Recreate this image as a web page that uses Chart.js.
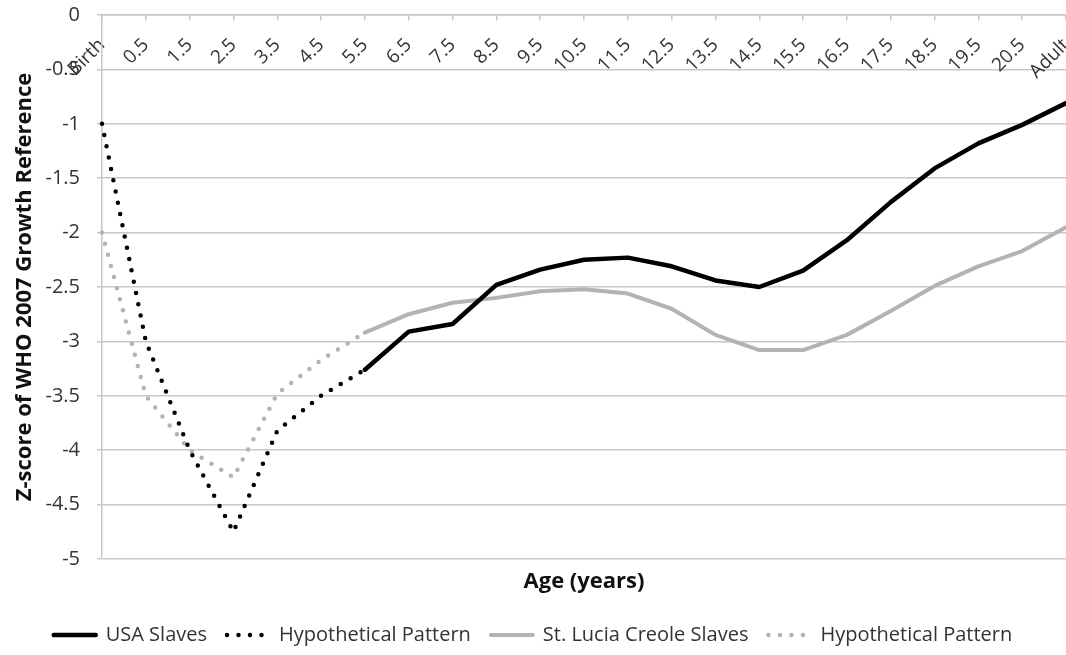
<!DOCTYPE html>
<html>
<head>
<meta charset="utf-8">
<script src="https://cdn.jsdelivr.net/npm/chart.js@4/dist/chart.umd.min.js"></script>
<style>
  html, body { margin: 0; padding: 0; background: #fff; }
  #wrap { width: 1066px; height: 655px; position: relative; }
</style>
</head>
<body>
<div id="wrap"><canvas id="chart"></canvas></div>
<script>
const ageLabels = ['Birth', '0.5', '1.5', '2.5', '3.5', '4.5', '5.5', '6.5', '7.5', '8.5', '9.5',
  '10.5', '11.5', '12.5', '13.5', '14.5', '15.5', '16.5', '17.5', '18.5', '19.5', '20.5', 'Adult'];

// Birth .. 5.5 (hypothetical patterns)
const usaHypothetical     = [-1.0, -3.0, -4.0, -4.75, -3.82, -3.5, -3.26];
const stLuciaHypothetical = [-2.0, -3.5, -4.0, -4.25, -3.48, -3.17, -2.92];

// 5.5 .. Adult (observed)
const usaSlaves     = [-3.26, -2.91, -2.84, -2.48, -2.34, -2.25, -2.23, -2.31, -2.44, -2.50,
  -2.35, -2.07, -1.72, -1.41, -1.18, -1.01, -0.81];
const stLuciaSlaves = [-2.92, -2.75, -2.645, -2.60, -2.54, -2.52, -2.56, -2.70, -2.94, -3.08,
  -3.08, -2.94, -2.72, -2.49, -2.31, -2.17, -1.95];

const yTicks = { min: -5, max: 0, step: 0.5 };

const GRID = '#c8c8c8';
const BLACK = '#000000';
const GREY = '#b3b3b3';
const TEXT = '#333333';

function padBefore(values) {
  return Array(ageLabels.length - values.length).fill(null).concat(values);
}
function padAfter(values) {
  return values.concat(Array(ageLabels.length - values.length).fill(null));
}

Chart.defaults.font.family = "'Open Sans', sans-serif";
Chart.defaults.color = TEXT;

const solid = { borderWidth: 4.5, borderCapStyle: 'round', borderJoinStyle: 'round' };
const dotted = { borderWidth: 4.5, borderCapStyle: 'round', borderJoinStyle: 'round', borderDash: [0, 11.5] };

new Chart(document.getElementById('chart'), {
  type: 'line',
  data: {
    labels: ageLabels,
    datasets: [
      { label: 'USA Slaves', data: padBefore(usaSlaves), borderColor: BLACK, backgroundColor: BLACK, ...solid },
      { label: 'Hypothetical Pattern', data: padAfter(usaHypothetical), borderColor: BLACK, backgroundColor: BLACK, ...dotted },
      { label: 'St. Lucia Creole Slaves', data: padBefore(stLuciaSlaves), borderColor: GREY, backgroundColor: GREY, ...solid, borderWidth: 4 },
      { label: 'Hypothetical Pattern', data: padAfter(stLuciaHypothetical), borderColor: GREY, backgroundColor: GREY, ...dotted }
    ]
  },
  options: {
    responsive: true,
    maintainAspectRatio: false,
    animation: false,
    layout: { padding: { top: 15, left: 0, right: 0, bottom: 0 } },
    elements: { point: { radius: 0, hoverRadius: 0 }, line: { tension: 0 } },
    plugins: {
      tooltip: { enabled: false },
      legend: {
        position: 'bottom',
        labels: {
          usePointStyle: true,
          pointStyle: 'line',
          pointStyleWidth: 42,
          color: TEXT,
          padding: 20,
          font: { size: 20 },
          generateLabels(c) {
            const items = Chart.defaults.plugins.legend.labels.generateLabels(c);
            items.forEach(item => {
              const ds = c.data.datasets[item.datasetIndex];
              item.lineDash = ds.borderDash || [];
              item.lineCap = ds.borderCapStyle;
              item.lineWidth = ds.borderWidth;
            });
            return items;
          }
        }
      }
    },
    scales: {
      x: {
        position: { y: 0 },
        ticks: { minRotation: 45, maxRotation: 45, autoSkip: false, padding: 14, color: TEXT, font: { size: 19 } },
        grid: { drawOnChartArea: false, tickLength: 5, color: GRID, lineWidth: 1.5 },
        border: { color: GRID, width: 1.5 },
        afterFit(scale) {
          scale.paddingLeft = 0;
          scale.paddingRight = 0;
        }
      },
      xTitle: {
        type: 'category',
        axis: 'x',
        position: 'bottom',
        ticks: { display: false },
        grid: { display: false },
        border: { display: false },
        title: {
          display: true,
          text: 'Age (years)',
          color: '#111',
          font: { size: 22, weight: 'bold' },
          padding: { top: 0, bottom: 10 }
        },
        afterFit(scale) { scale.height = 46; }
      },
      y: {
        min: yTicks.min,
        max: yTicks.max,
        ticks: {
          stepSize: yTicks.step,
          padding: 17,
          color: TEXT,
          font: { size: 20 },
          callback: v => String(Math.round(v * 10) / 10)
        },
        grid: { color: GRID, lineWidth: 1.5, tickLength: 5 },
        border: { color: GRID, width: 1.5 },
        title: {
          display: true,
          text: 'Z-score of WHO 2007 Growth Reference',
          color: '#111',
          font: { size: 22, weight: 'bold' },
          padding: { top: 12, bottom: 0 }
        },
        afterFit(scale) {
          scale.width = 102;
          scale.paddingTop = 0;
          scale.paddingBottom = 0;
        }
      }
    }
  }
});
</script>
</body>
</html>
